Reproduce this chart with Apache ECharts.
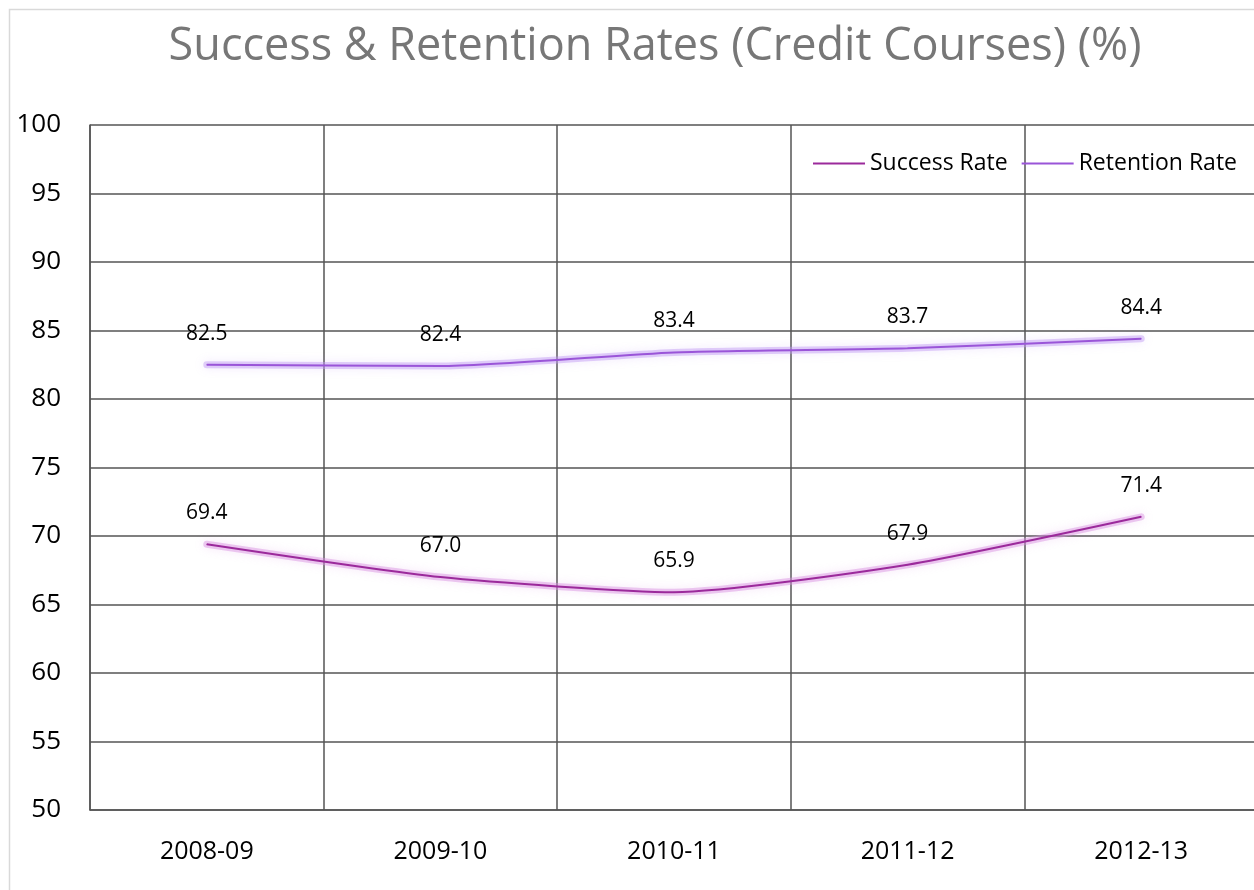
<!DOCTYPE html>
<html>
<head>
<meta charset="utf-8">
<script src="https://cdn.jsdelivr.net/npm/echarts@6/dist/echarts.min.js"></script>
<style>
  html, body { margin: 0; padding: 0; background: #fff; overflow: hidden; }
  #chart { width: 1262px; height: 890px; }
</style>
</head>
<body>
<div id="chart"></div>
<script>
const years = ["2008-09", "2009-10", "2010-11", "2011-12", "2012-13"];
const successRate = [69.4, 67.0, 65.9, 67.9, 71.4];
const retentionRate = [82.5, 82.4, 83.4, 83.7, 84.4];
const yTicks = { min: 50, max: 100, interval: 5 };

const labelFont = "'Open Sans', 'Noto Sans', sans-serif";

const myChart = echarts.init(document.getElementById("chart"));

// soft halo drawn under each line (Excel "glow" effect)
const makeGlow = (name, data, glow) => ({
	name: name + " glow",
	type: "line",
	data: data,
	smooth: 0.2,
	symbol: "none",
	silent: true,
	z: 1,
	lineStyle: {
		color: glow,
		width: 7,
		cap: "round",
		shadowColor: glow,
		shadowBlur: 10,
	},
	tooltip: { show: false },
});

const makeSeries = (name, data, color) => ({
	name: name,
	type: "line",
	data: data,
	smooth: 0.2,
	symbol: "circle",
	symbolSize: 1,
	showSymbol: true,
	z: 3,
	lineStyle: {
		color: color,
		width: 2,
	},
	itemStyle: { color: color },
	label: {
		show: true,
		position: "top",
		distance: 20,
		color: "#000",
		fontSize: 21,
		fontFamily: labelFont,
		formatter: (p) => Number(p.value).toFixed(1),
	},
});

const option = {
	backgroundColor: "#fff",
	title: {
		text: "Success & Retention Rates (Credit Courses) (%)",
		left: 650,
		textAlign: "center",
		top: 20,
		textStyle: {
			color: "#777",
			fontSize: 45,
			fontWeight: "normal",
			fontFamily: labelFont,
		},
	},
	graphic: [
		{
			type: "rect",
			shape: { x: 9.5, y: 9.5, width: 1300, height: 900 },
			style: { fill: "none", stroke: "#d9d9d9", lineWidth: 1.5 },
			silent: true,
		},
	],
	legend: {
		left: 808,
		top: 147,
		itemWidth: 52,
		itemHeight: 2,
		itemGap: 14,
		icon: "rect",
		textStyle: { fontSize: 23, color: "#000", fontFamily: labelFont },
		data: ["Success Rate", "Retention Rate"],
	},
	grid: {
		left: 90,
		right: 4,
		top: 125,
		bottom: 80,
	},
	xAxis: {
		type: "category",
		data: years,
		boundaryGap: true,
		axisLine: { lineStyle: { color: "#555", width: 1.5 } },
		axisTick: { show: false },
		splitLine: { show: true, lineStyle: { color: "#555", width: 1.5 } },
		axisLabel: {
			color: "#000",
			fontSize: 25,
			margin: 29,
			fontFamily: labelFont,
		},
	},
	yAxis: {
		type: "value",
		min: yTicks.min,
		max: yTicks.max,
		interval: yTicks.interval,
		axisLine: { show: true, lineStyle: { color: "#555", width: 1.5 } },
		axisTick: { show: false },
		splitLine: { show: true, lineStyle: { color: "#555", width: 1.5 } },
		axisLabel: {
			color: "#000",
			fontSize: 26,
			margin: 29,
			fontFamily: labelFont,
		},
	},
	series: [
		makeGlow("Success Rate", successRate, "rgba(215,140,225,0.45)"),
		makeGlow("Retention Rate", retentionRate, "rgba(190,150,245,0.45)"),
		makeSeries("Success Rate", successRate, "#9b2a9b"),
		makeSeries("Retention Rate", retentionRate, "#9a55d8"),
	],
};

myChart.setOption(option);
</script>
</body>
</html>
